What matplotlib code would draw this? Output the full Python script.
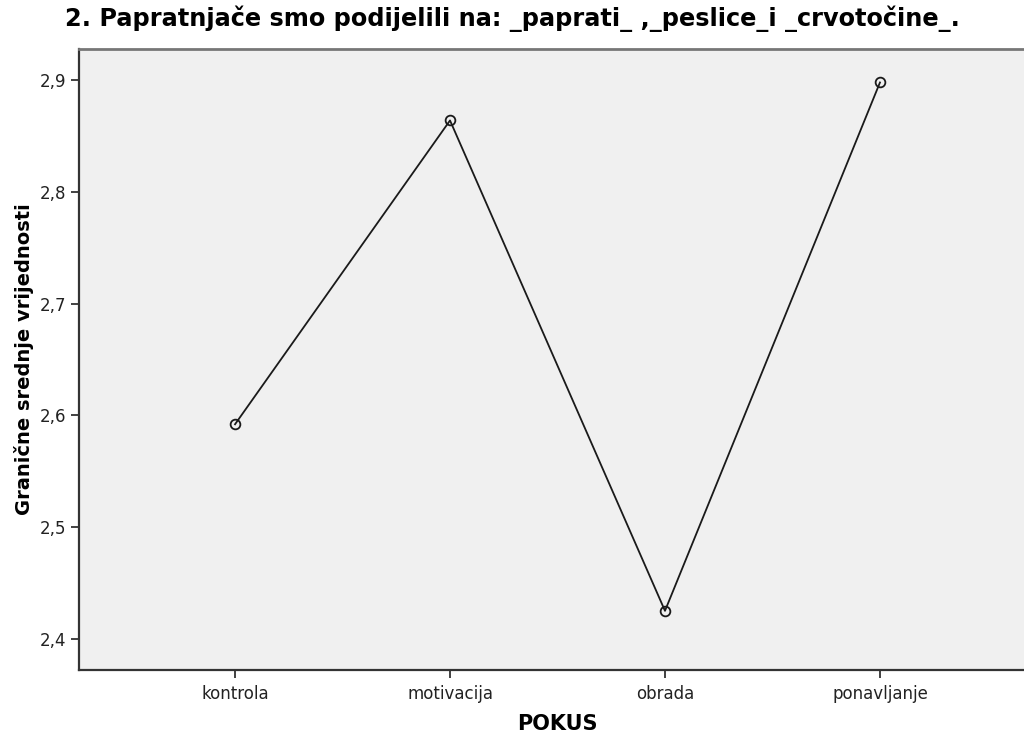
import matplotlib
matplotlib.use('Agg')
import matplotlib.pyplot as plt
from matplotlib.ticker import FuncFormatter

# procijenjene granične srednje vrijednosti po pokusu
pokus = ['kontrola', 'motivacija', 'obrada', 'ponavljanje']
srednje = [2.592, 2.864, 2.425, 2.898]
y_ticks = [2.4, 2.5, 2.6, 2.7, 2.8, 2.9]

naslov = '2. Papratnjače smo podijelili na: _paprati_ ,_peslice_i _crvotočine_.'

plt.rcParams['font.family'] = ['DejaVu Sans']

fig = plt.figure(figsize=(10.24, 7.33), dpi=100)
ax = fig.add_axes([0.0771, 0.0859, 0.9229, 0.8473])
ax.set_facecolor('#f0f0f0')

x = list(range(len(pokus)))
ax.plot(x, srednje, color='#1a1a1a', linewidth=1.3, marker='o', markersize=7,
        markerfacecolor='none', markeredgecolor='#1a1a1a', markeredgewidth=1.3)

ax.set_xlim(-0.726, 3.67)
ax.set_ylim(2.372, 2.928)
ax.set_xticks(x)
ax.set_xticklabels(pokus)
ax.set_yticks(y_ticks)
ax.yaxis.set_major_formatter(FuncFormatter(lambda v, p: f'{v:.1f}'.replace('.', ',')))
ax.tick_params(axis='both', length=6, width=1.3, color='#333333', labelsize=12,
               labelcolor='#222222', pad=3)
ax.tick_params(axis='x', pad=5)

for side in ['left', 'bottom']:
    ax.spines[side].set_linewidth(1.6)
    ax.spines[side].set_color('#333333')
ax.spines['top'].set_linewidth(2.0)
ax.spines['top'].set_color('#777777')
ax.spines['right'].set_visible(False)

ax.set_xlabel('POKUS', fontsize=15, fontweight='bold', labelpad=6)
ax.xaxis.set_label_coords(0.506, -0.07)
ax.set_ylabel('Granične srednje vrijednosti', fontsize=14, fontweight='bold', labelpad=4)

fig.text(0.5, 0.974, naslov, ha='center', va='center', fontsize=17.3, fontweight='bold')

fig.savefig('out.png', dpi=100)
